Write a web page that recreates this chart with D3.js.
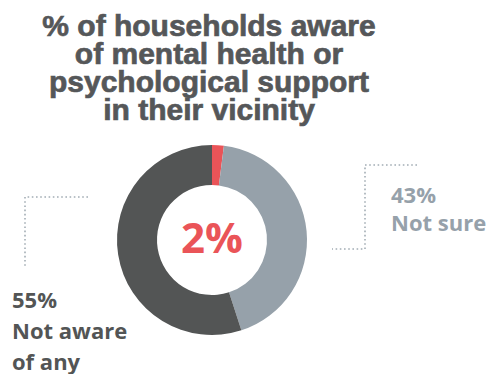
<!DOCTYPE html>
<html>
<head>
<meta charset="utf-8">
<script src="https://cdn.jsdelivr.net/npm/d3@7"></script>
<style>
  body { margin: 0; background: #fff; }
  svg { display: block; }
</style>
</head>
<body>
<svg id="chart" width="490" height="374"></svg>
<script>
const categories = ['Aware', 'Not sure', 'Not aware of any'];
const values = [2, 43, 55];
const colors = ['#ea5458', '#96a1aa', '#535555'];
const titleLines = ['% of households aware', 'of mental health or', 'psychological support', 'in their vicinity'];

const svg = d3.select('#chart');

// title
svg.append('g')
  .attr('class', 'title')
  .selectAll('text')
  .data(titleLines)
  .join('text')
    .attr('x', 209)
    .attr('y', (d, i) => 36 + i * 28)
    .attr('text-anchor', 'middle')
    .attr('fill', '#555759')
    .attr('stroke', '#555759')
    .attr('stroke-width', 0.7)
    .style('font-family', 'Liberation Sans, Arial, sans-serif')
    .style('font-weight', 'bold')
    .style('font-size', '30px')
    .text(d => d);

// donut
const pie = d3.pie().sort(null).value(d => d);
const arc = d3.arc().innerRadius(55).outerRadius(95);

const donut = svg.append('g')
  .attr('transform', 'translate(212,240)');

donut.selectAll('path')
  .data(pie(values))
  .join('path')
    .attr('d', arc)
    .attr('fill', (d, i) => colors[i]);

donut.append('text')
  .attr('y', 13)
  .attr('text-anchor', 'middle')
  .attr('fill', colors[0])
  .style('font-family', 'Open Sans, sans-serif')
  .style('font-weight', 'bold')
  .style('font-size', '42px')
  .text(values[0] + '%');

// leader lines
const leader = d3.line();
const dotted = (pts) => svg.append('path')
  .attr('d', leader(pts))
  .attr('fill', 'none')
  .attr('stroke', '#a3adb5')
  .attr('stroke-width', 1.6)
  .attr('stroke-dasharray', '1.6,2.6');

dotted([[88, 197], [25, 197], [25, 266]]);
dotted([[417, 165], [365, 165], [365, 249], [332, 249]]);

// labels
const label = (x, y, lines, color, gap) => {
  svg.append('text')
    .attr('fill', color)
    .style('font-family', 'Open Sans, sans-serif')
    .style('font-weight', 'bold')
    .style('font-size', '22px')
    .selectAll('tspan')
    .data(lines)
    .join('tspan')
      .attr('x', x)
      .attr('y', (d, i) => y + i * gap)
      .text(d => d);
};

label(391, 203, [values[1] + '%', categories[1]], colors[1], 28);
label(12, 308, [values[2] + '%', 'Not aware', 'of any'], colors[2], 31);
</script>
</body>
</html>
